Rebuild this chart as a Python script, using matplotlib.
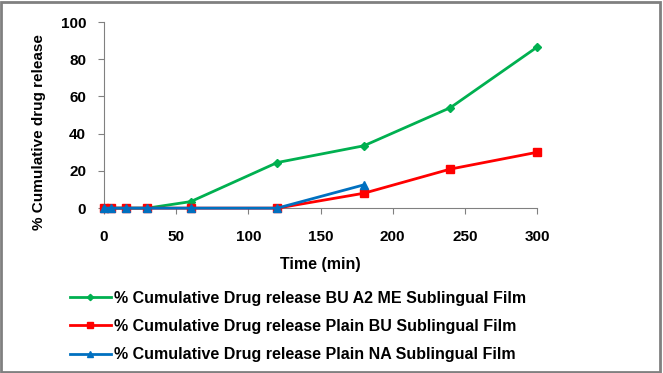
import matplotlib.pyplot as plt
from matplotlib.patches import Rectangle

plt.rcParams['font.family'] = ['Liberation Sans', 'DejaVu Sans']
plt.rcParams['font.weight'] = 'bold'

time_min = [0, 5, 15, 30, 60, 120, 180, 240, 300]
bu_a2_me = [0, 0, 0, 0, 3.5, 24.5, 33.5, 54, 86.5]
plain_bu = [0, 0, 0, 0, 0, 0, 8, 21, 30]
time_na = [0, 5, 15, 30, 60, 120, 180]
plain_na = [0, 0, 0, 0, 0, 0, 12.5]

labels = ["% Cumulative Drug release BU A2 ME Sublingual Film",
          "% Cumulative Drug release Plain BU Sublingual Film",
          "% Cumulative Drug release Plain NA Sublingual Film"]

fig = plt.figure(figsize=(6.63, 3.73), dpi=100)
ax = fig.add_axes([0.157, 0.442, 0.653, 0.499])

l1, = ax.plot(time_min, bu_a2_me, color='#00B050', lw=2, marker='D', ms=4, clip_on=False, zorder=3)
l2, = ax.plot(time_min, plain_bu, color='#FF0000', lw=2, marker='s', ms=6, clip_on=False, zorder=4)
l3, = ax.plot(time_na, plain_na, color='#0070C0', lw=2, marker='^', ms=6, clip_on=False, zorder=5)

ax.set_xlim(0, 300)
ax.set_ylim(0, 100)
ax.set_xticks(range(0, 301, 50))
ax.set_yticks(range(0, 101, 20))
for s in ['top', 'right']:
    ax.spines[s].set_visible(False)
for s in ['left', 'bottom']:
    ax.spines[s].set_color('#808080')
ax.tick_params(direction='out', length=4, color='#808080', labelsize=11)
ax.tick_params(axis='x', pad=12)
ax.tick_params(axis='y', pad=9)
ax.set_xlabel("Time (min)", fontsize=11.5, fontweight='bold', labelpad=9)
ax.set_ylabel("% Cumulative drug release", fontsize=11, fontweight='bold')
ax.yaxis.set_label_coords(-0.134, 0.41)

fig.legend([l1, l2, l3], labels, loc='upper left', bbox_to_anchor=(0.088, 0.25),
           frameon=False, fontsize=11.5, handlelength=2.6, handletextpad=0.2,
           labelspacing=0.82, markerscale=0.8, borderpad=0.2)

fig.patches.append(Rectangle((0.002, 0.004), 0.993, 0.99, transform=fig.transFigure,
                             fill=False, edgecolor='#808080', lw=2))

fig.savefig('out.png', dpi=100)
